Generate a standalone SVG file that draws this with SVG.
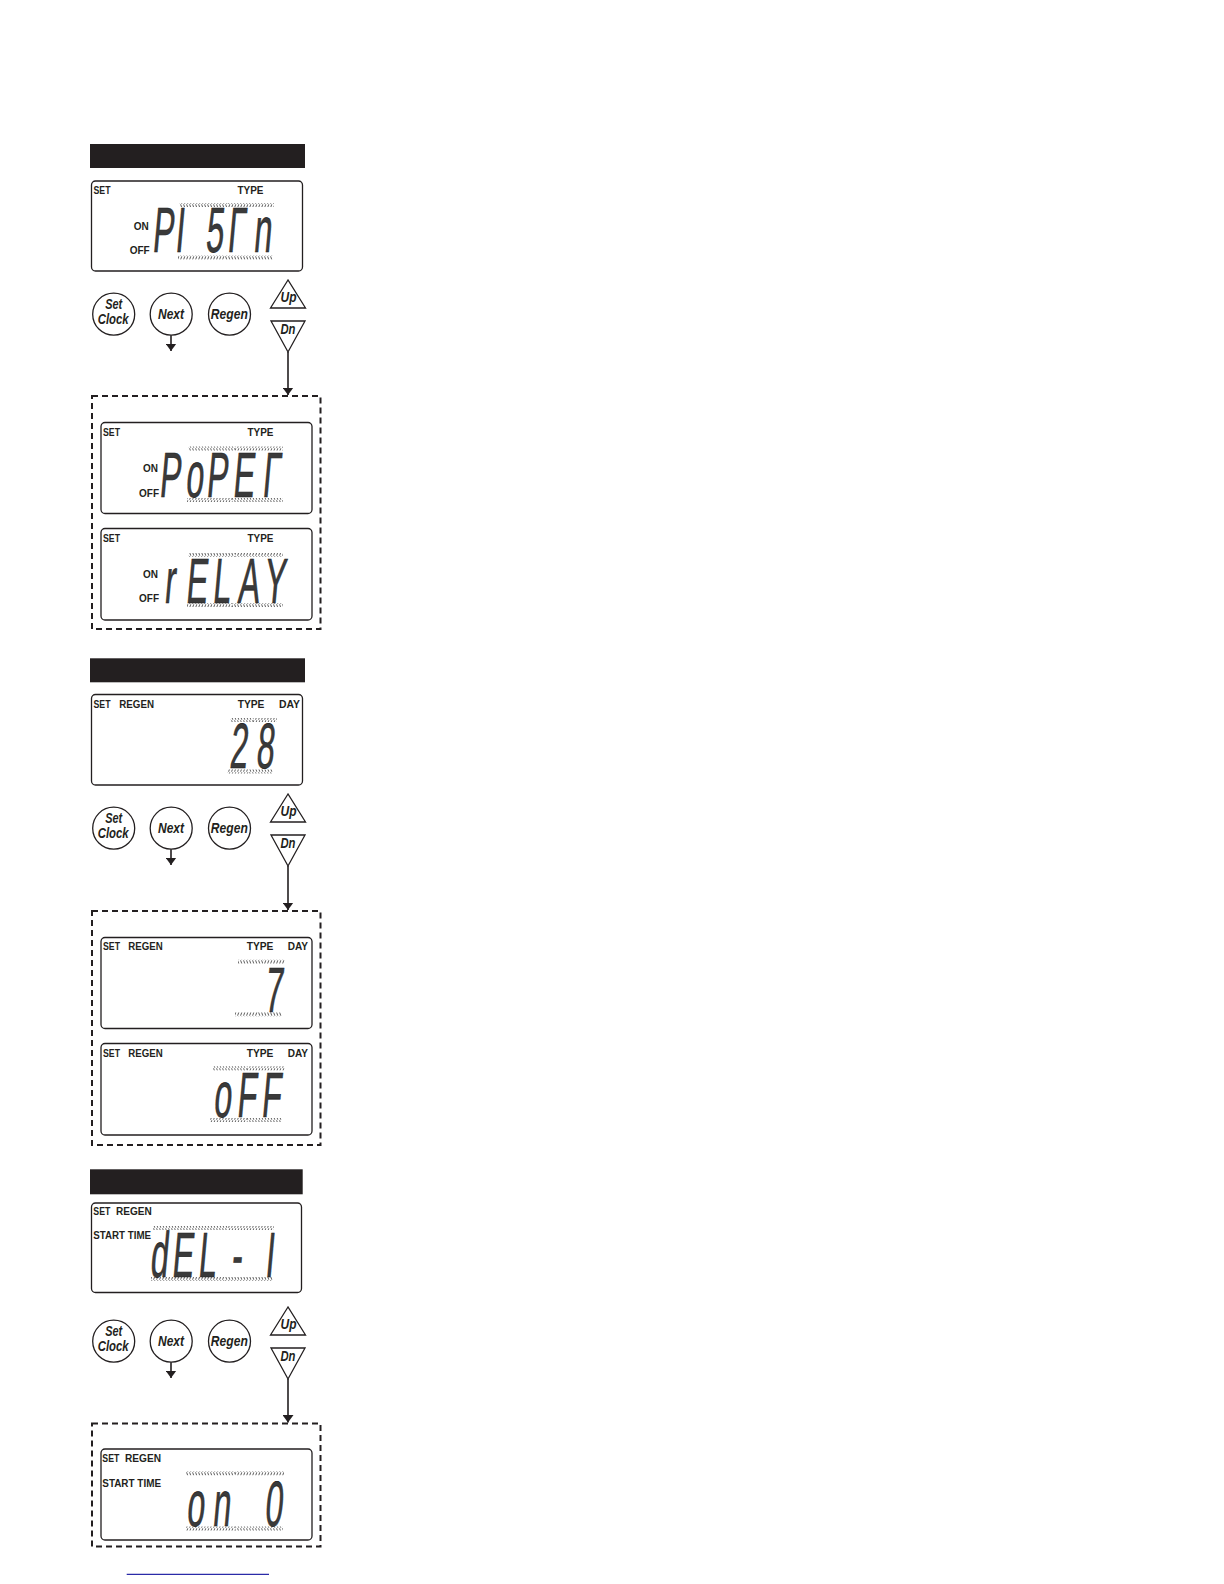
<svg xmlns="http://www.w3.org/2000/svg" width="1224" height="1584" viewBox="0 0 1224 1584">
<defs>
<style>
.bar{fill:#231f20}
.lcd{fill:#fff;stroke:#231f20;stroke-width:1.3}
.dash{fill:none;stroke:#231f20;stroke-width:2;stroke-dasharray:6 4}
.lb{font-family:"Liberation Sans Narrow","Liberation Sans",Arial,sans-serif;font-weight:bold;font-size:11.5px;fill:#231f20}
.lbs{font-size:10.5px}
.d{font-family:"Liberation Sans",Arial,sans-serif;font-size:64px;fill:#3a3a3a;stroke:#1a1a1a;stroke-width:0.6;text-anchor:middle}
.btn{fill:#fff;stroke:#231f20;stroke-width:1.3}
.bt{font-family:"Liberation Sans Narrow","Liberation Sans",Arial,sans-serif;font-weight:bold;font-style:italic;font-size:14.5px;fill:#231f20;text-anchor:middle}
.con{stroke:#231f20;stroke-width:1.6;fill:none;marker-end:url(#ah)}
</style>
<pattern id="hb" width="3" height="4" patternUnits="userSpaceOnUse"><path d="M0.6 0.3 L1.8 3.7" stroke="#333" stroke-width="0.8"/></pattern>
<pattern id="hf" width="3" height="4" patternUnits="userSpaceOnUse"><path d="M1.8 0.3 L0.6 3.7" stroke="#333" stroke-width="0.8"/></pattern>
<marker id="ah" viewBox="0 -5.5 7.5 11" refX="7.5" refY="0" markerWidth="7.5" markerHeight="11" markerUnits="userSpaceOnUse" orient="auto"><path d="M0,-5.5 L7.5,0 L0,5.5 z" fill="#231f20"/></marker>
</defs>
<rect width="1224" height="1584" fill="#fff"/>

<!-- ===== Section 1 ===== -->
<g id="header1"><rect class="bar" x="90" y="144" width="215" height="24"/></g>
<g id="lcd1">
<rect class="lcd" x="91.5" y="181" width="211" height="90" rx="4"/>
<text class="lb" x="93.5" y="193.5" textLength="17" lengthAdjust="spacingAndGlyphs">SET</text>
<text class="lb" x="237.5" y="193.5" textLength="26" lengthAdjust="spacingAndGlyphs">TYPE</text>
<text class="lb lbs" x="133.7" y="229.5" textLength="15" lengthAdjust="spacingAndGlyphs">ON</text>
<text class="lb lbs" x="129.7" y="253.5" textLength="20" lengthAdjust="spacingAndGlyphs">OFF</text>
<rect x="179" y="203" width="49" height="4" fill="url(#hb)"/><rect x="228" y="203" width="46" height="4" fill="url(#hf)"/>
<rect x="178" y="255.5" width="47" height="4" fill="url(#hf)"/><rect x="225" y="255.5" width="48" height="4" fill="url(#hb)"/>
<text class="d" transform="matrix(0.5 0 -0.09 1 162.5 252)">P</text>
<text class="d" transform="matrix(0.5 0 -0.09 1 179 252)">I</text>
<text class="d" transform="matrix(0.5 0 -0.09 1 214 252)">5</text>
<text class="d" transform="matrix(0.5 0 -0.09 1 235.5 252)">Γ</text>
<text class="d" transform="matrix(0.5 0 -0.09 1 262 252)">n</text>
</g>
<g id="buttons1">
<g id="setclock1"><circle class="btn" cx="113.7" cy="314.2" r="21"/><text class="bt" x="113.7" y="309" textLength="17" lengthAdjust="spacingAndGlyphs">Set</text><text class="bt" x="113.2" y="324" textLength="31" lengthAdjust="spacingAndGlyphs">Clock</text></g>
<g id="next1"><circle class="btn" cx="171.2" cy="314.2" r="21"/><text class="bt" x="171" y="319" textLength="26" lengthAdjust="spacingAndGlyphs">Next</text></g>
<g id="regen1"><circle class="btn" cx="229.5" cy="314.2" r="21"/><text class="bt" x="229.3" y="319" textLength="37" lengthAdjust="spacingAndGlyphs">Regen</text></g>
<g id="up1"><polygon class="btn" points="288,280 270.5,308 305.5,308"/><text class="bt" x="288.5" y="302" textLength="16" lengthAdjust="spacingAndGlyphs">Up</text></g>
<g id="dn1"><polygon class="btn" points="271,321 305,321 288,352"/><text class="bt" x="288" y="334" textLength="15" lengthAdjust="spacingAndGlyphs">Dn</text></g>
</g>
<g id="options1">
<rect class="dash" x="92" y="396" width="228.5" height="233"/>
<g id="lcd1a">
<rect class="lcd" x="101" y="422.5" width="211" height="91" rx="4"/>
<text class="lb" x="103" y="436" textLength="17" lengthAdjust="spacingAndGlyphs">SET</text>
<text class="lb" x="247.5" y="436" textLength="26" lengthAdjust="spacingAndGlyphs">TYPE</text>
<text class="lb lbs" x="143" y="472" textLength="15" lengthAdjust="spacingAndGlyphs">ON</text>
<text class="lb lbs" x="139" y="497" textLength="20" lengthAdjust="spacingAndGlyphs">OFF</text>
<rect x="188" y="446.5" width="47" height="4" fill="url(#hb)"/><rect x="235" y="446.5" width="48" height="4" fill="url(#hf)"/>
<rect x="187" y="498" width="45" height="4" fill="url(#hf)"/><rect x="232" y="498" width="51" height="4" fill="url(#hb)"/>
<text class="d" transform="matrix(0.5 0 -0.09 1 169.5 496.5)">P</text>
<text class="d" transform="matrix(0.5 0 -0.09 1 194 496.5)">o</text>
<text class="d" transform="matrix(0.5 0 -0.09 1 216.5 496.5)">P</text>
<text class="d" transform="matrix(0.5 0 -0.09 1 243 496.5)">E</text>
<text class="d" transform="matrix(0.5 0 -0.09 1 270.5 496.5)">Γ</text>
</g>
<g id="lcd1b">
<rect class="lcd" x="101" y="528.5" width="211" height="91.5" rx="4"/>
<text class="lb" x="103" y="542" textLength="17" lengthAdjust="spacingAndGlyphs">SET</text>
<text class="lb" x="247.5" y="542" textLength="26" lengthAdjust="spacingAndGlyphs">TYPE</text>
<text class="lb lbs" x="143" y="577.5" textLength="15" lengthAdjust="spacingAndGlyphs">ON</text>
<text class="lb lbs" x="139" y="602" textLength="20" lengthAdjust="spacingAndGlyphs">OFF</text>
<rect x="188" y="553" width="47" height="4" fill="url(#hb)"/><rect x="235" y="553" width="48" height="4" fill="url(#hf)"/>
<rect x="187" y="603" width="45" height="4" fill="url(#hf)"/><rect x="232" y="603" width="51" height="4" fill="url(#hb)"/>
<text class="d" transform="matrix(0.5 0 -0.09 1 169 603)">r</text>
<text class="d" transform="matrix(0.5 0 -0.09 1 196 603)">E</text>
<text class="d" transform="matrix(0.5 0 -0.09 1 221 603)">L</text>
<text class="d" transform="matrix(0.5 0 -0.09 1 248 603)">A</text>
<text class="d" transform="matrix(0.5 0 -0.09 1 274 603)">Y</text>
</g>
</g>

<!-- ===== Section 2 ===== -->
<g id="header2"><rect class="bar" x="90" y="658.3" width="215" height="24"/></g>
<g id="lcd2">
<rect class="lcd" x="91.5" y="694.5" width="211" height="90.5" rx="4"/>
<text class="lb" x="93.5" y="707.5" textLength="17" lengthAdjust="spacingAndGlyphs">SET</text>
<text class="lb" x="119.3" y="707.5" textLength="34.7" lengthAdjust="spacingAndGlyphs">REGEN</text>
<text class="lb" x="237.7" y="707.5" textLength="26.7" lengthAdjust="spacingAndGlyphs">TYPE</text>
<text class="lb" x="279" y="707.5" textLength="21" lengthAdjust="spacingAndGlyphs">DAY</text>
<rect x="230" y="718" width="23" height="4" fill="url(#hb)"/><rect x="253" y="718" width="24" height="4" fill="url(#hf)"/>
<rect x="227" y="769.5" width="22" height="4" fill="url(#hf)"/><rect x="249" y="769.5" width="24" height="4" fill="url(#hb)"/>
<text class="d" transform="matrix(0.5 0 -0.09 1 238 768)">2</text>
<text class="d" transform="matrix(0.5 0 -0.09 1 264.5 768)">8</text>
</g>
<g id="buttons2" transform="translate(0,514)">
<g id="setclock2"><circle class="btn" cx="113.7" cy="314.2" r="21"/><text class="bt" x="113.7" y="309" textLength="17" lengthAdjust="spacingAndGlyphs">Set</text><text class="bt" x="113.2" y="324" textLength="31" lengthAdjust="spacingAndGlyphs">Clock</text></g>
<g id="next2"><circle class="btn" cx="171.2" cy="314.2" r="21"/><text class="bt" x="171" y="319" textLength="26" lengthAdjust="spacingAndGlyphs">Next</text></g>
<g id="regen2"><circle class="btn" cx="229.5" cy="314.2" r="21"/><text class="bt" x="229.3" y="319" textLength="37" lengthAdjust="spacingAndGlyphs">Regen</text></g>
<g id="up2"><polygon class="btn" points="288,280 270.5,308 305.5,308"/><text class="bt" x="288.5" y="302" textLength="16" lengthAdjust="spacingAndGlyphs">Up</text></g>
<g id="dn2"><polygon class="btn" points="271,321 305,321 288,352"/><text class="bt" x="288" y="334" textLength="15" lengthAdjust="spacingAndGlyphs">Dn</text></g>
</g>
<g id="options2">
<rect class="dash" x="92" y="911" width="228.5" height="234"/>
<g id="lcd2a">
<rect class="lcd" x="101" y="937.5" width="211" height="91" rx="4"/>
<text class="lb" x="103" y="950" textLength="17" lengthAdjust="spacingAndGlyphs">SET</text>
<text class="lb" x="128.3" y="950" textLength="34.4" lengthAdjust="spacingAndGlyphs">REGEN</text>
<text class="lb" x="246.7" y="950" textLength="26.7" lengthAdjust="spacingAndGlyphs">TYPE</text>
<text class="lb" x="287.7" y="950" textLength="20.3" lengthAdjust="spacingAndGlyphs">DAY</text>
<rect x="238" y="959.7" width="25" height="4" fill="url(#hb)"/><rect x="263" y="959.7" width="22" height="4" fill="url(#hf)"/>
<rect x="235" y="1012.3" width="23" height="4" fill="url(#hf)"/><rect x="258" y="1012.3" width="24" height="4" fill="url(#hb)"/>
<text class="d" transform="matrix(0.5 0 -0.09 1 273 1011.7)">7</text>
</g>
<g id="lcd2b">
<rect class="lcd" x="101" y="1043.5" width="211" height="91.5" rx="4"/>
<text class="lb" x="103" y="1056.7" textLength="17" lengthAdjust="spacingAndGlyphs">SET</text>
<text class="lb" x="128.3" y="1056.7" textLength="34.4" lengthAdjust="spacingAndGlyphs">REGEN</text>
<text class="lb" x="246.7" y="1056.7" textLength="26.7" lengthAdjust="spacingAndGlyphs">TYPE</text>
<text class="lb" x="287.7" y="1056.7" textLength="20.3" lengthAdjust="spacingAndGlyphs">DAY</text>
<rect x="213" y="1066.3" width="34" height="4" fill="url(#hb)"/><rect x="247" y="1066.3" width="38" height="4" fill="url(#hf)"/>
<rect x="210" y="1118" width="37" height="4" fill="url(#hf)"/><rect x="247" y="1118" width="35" height="4" fill="url(#hb)"/>
<text class="d" transform="matrix(0.5 0 -0.09 1 222 1116.7)">o</text>
<text class="d" transform="matrix(0.5 0 -0.09 1 246 1116.7)">F</text>
<text class="d" transform="matrix(0.5 0 -0.09 1 270.5 1116.7)">F</text>
</g>
</g>

<!-- ===== Section 3 ===== -->
<g id="header3"><rect class="bar" x="90" y="1169.3" width="212.7" height="25"/></g>
<g id="lcd3">
<rect class="lcd" x="91.5" y="1203" width="210" height="89.5" rx="4"/>
<text class="lb" x="93.3" y="1215" textLength="17" lengthAdjust="spacingAndGlyphs">SET</text>
<text class="lb" x="116" y="1215" textLength="35.7" lengthAdjust="spacingAndGlyphs">REGEN</text>
<text class="lb" x="93.3" y="1239.3" textLength="57.7" lengthAdjust="spacingAndGlyphs">START TIME</text>
<rect x="153" y="1226" width="75" height="4" fill="url(#hb)"/><rect x="228" y="1226" width="46" height="4" fill="url(#hf)"/>
<rect x="151" y="1277" width="74" height="4" fill="url(#hf)"/><rect x="225" y="1277" width="48" height="4" fill="url(#hb)"/>
<text class="d" transform="matrix(0.5 0 -0.09 1 158.5 1276.7)">d</text>
<text class="d" transform="matrix(0.5 0 -0.09 1 182 1276.7)">E</text>
<text class="d" transform="matrix(0.5 0 -0.09 1 206.5 1276.7)">L</text>
<text class="d" transform="matrix(0.5 0 -0.09 1 236 1276.7)">-</text>
<text class="d" transform="matrix(0.5 0 -0.09 1 269 1276.7)">I</text>
</g>
<g id="buttons3" transform="translate(0,1027)">
<g id="setclock3"><circle class="btn" cx="113.7" cy="314.2" r="21"/><text class="bt" x="113.7" y="309" textLength="17" lengthAdjust="spacingAndGlyphs">Set</text><text class="bt" x="113.2" y="324" textLength="31" lengthAdjust="spacingAndGlyphs">Clock</text></g>
<g id="next3"><circle class="btn" cx="171.2" cy="314.2" r="21"/><text class="bt" x="171" y="319" textLength="26" lengthAdjust="spacingAndGlyphs">Next</text></g>
<g id="regen3"><circle class="btn" cx="229.5" cy="314.2" r="21"/><text class="bt" x="229.3" y="319" textLength="37" lengthAdjust="spacingAndGlyphs">Regen</text></g>
<g id="up3"><polygon class="btn" points="288,280 270.5,308 305.5,308"/><text class="bt" x="288.5" y="302" textLength="16" lengthAdjust="spacingAndGlyphs">Up</text></g>
<g id="dn3"><polygon class="btn" points="271,321 305,321 288,352"/><text class="bt" x="288" y="334" textLength="15" lengthAdjust="spacingAndGlyphs">Dn</text></g>
</g>
<g id="options3">
<rect class="dash" x="92" y="1423.5" width="228.5" height="123"/>
<g id="lcd3a">
<rect class="lcd" x="101" y="1449" width="211" height="91" rx="4"/>
<text class="lb" x="102.3" y="1462.3" textLength="17" lengthAdjust="spacingAndGlyphs">SET</text>
<text class="lb" x="125" y="1462.3" textLength="36" lengthAdjust="spacingAndGlyphs">REGEN</text>
<text class="lb" x="102.3" y="1486.7" textLength="58.7" lengthAdjust="spacingAndGlyphs">START TIME</text>
<rect x="186" y="1471.3" width="49" height="4" fill="url(#hb)"/><rect x="235" y="1471.3" width="49" height="4" fill="url(#hf)"/>
<rect x="186" y="1526.5" width="49" height="4" fill="url(#hf)"/><rect x="235" y="1526.5" width="48" height="4" fill="url(#hb)"/>
<text class="d" transform="matrix(0.5 0 -0.09 1 195 1526)">o</text>
<text class="d" transform="matrix(0.5 0 -0.09 1 221 1526)">n</text>
<text class="d" transform="matrix(0.5 0 -0.09 1 273 1526)">0</text>
</g>
</g>

<!-- ===== Connectors ===== -->
<g id="connectors">
<line class="con" x1="171" y1="335.2" x2="171" y2="351"/>
<line class="con" x1="288" y1="352" x2="288" y2="395"/>
<line class="con" x1="171" y1="849.2" x2="171" y2="865"/>
<line class="con" x1="288" y1="866" x2="288" y2="910"/>
<line class="con" x1="171" y1="1362.2" x2="171" y2="1378"/>
<line class="con" x1="288" y1="1379" x2="288" y2="1422.5"/>
</g>

<line x1="126.7" y1="1574.3" x2="269" y2="1574.3" stroke="#2b2ba8" stroke-width="1.3"/>
</svg>
